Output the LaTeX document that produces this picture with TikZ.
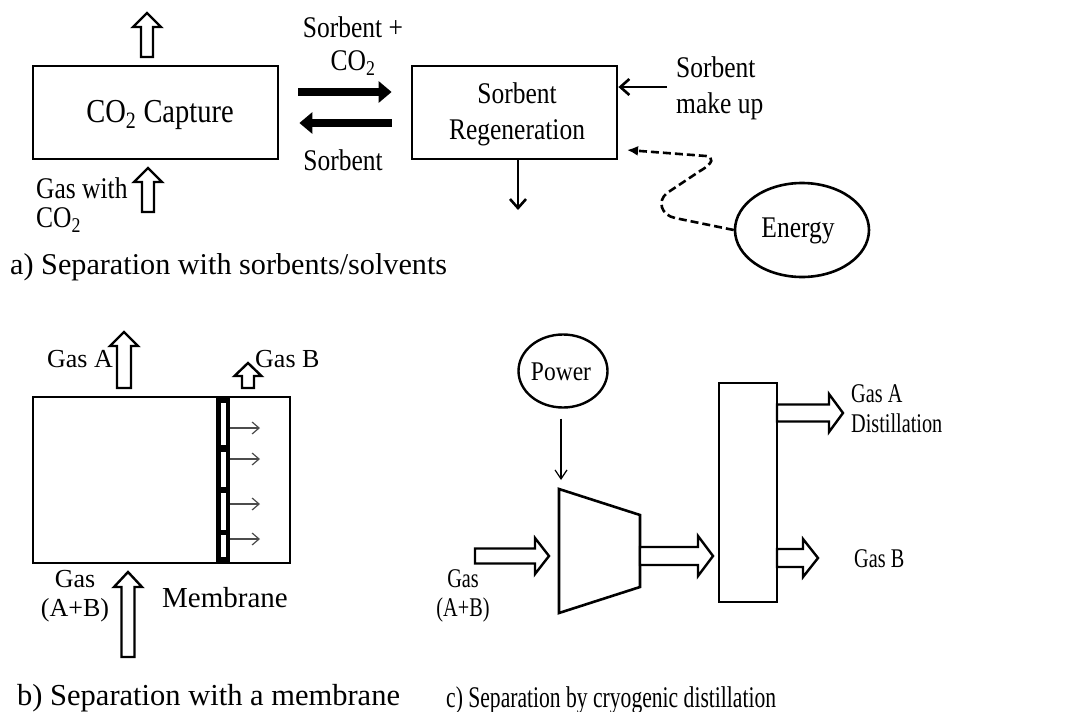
\documentclass[tikz,border=0pt]{standalone}
\usepackage{fontspec}
\setmainfont{Liberation Serif}
\newfontfamily\fA{Liberation Serif}[FakeStretch=0.85]
\newfontfamily\fC{Liberation Serif}[FakeStretch=0.75]
\newfontfamily\fP{Liberation Serif}[FakeStretch=0.87]
\newfontfamily\fCap{Liberation Serif}[FakeStretch=0.72]
\usetikzlibrary{arrows.meta,calc,shapes.geometric}
\newcommand\blkup[6]{%
  \draw[blk] (#1-#4,#2) -- (#1-#4,#3+#6) -- (#1-#5,#3+#6) -- (#1,#3) -- (#1+#5,#3+#6) -- (#1+#4,#3+#6) -- (#1+#4,#2) -- cycle;}
\newcommand\blkright[6]{%
  \draw[blk] (#2,#1-#4) -- (#3-#6,#1-#4) -- (#3-#6,#1-#5) -- (#3,#1) -- (#3-#6,#1+#5) -- (#3-#6,#1+#4) -- (#2,#1+#4) -- cycle;}
\tikzset{
  box/.style={draw, line width=2.8pt, rectangle, inner sep=0pt},
  blk/.style={draw, line width=2.4pt, fill=white, line join=miter},
  la/.style={inner sep=0pt, font=\fA\fontsize{30}{36}\selectfont},
  lb/.style={inner sep=0pt, font=\fontsize{26}{31}\selectfont},
  lc/.style={inner sep=0pt, font=\fC\fontsize{27}{32}\selectfont},
  capt/.style={inner sep=0pt, anchor=base west},
  thickarr/.style={line width=8pt, -{Triangle[length=13pt,width=21pt]}},
  medarr/.style={line width=2.6pt, -{Straight Barb[length=9pt,width=16pt,line width=2.6pt]}},
  thinarr/.style={line width=1.2pt, draw=black!70, -{Straight Barb[length=7pt,width=12pt,line width=1.2pt]}},
  thinarrb/.style={line width=1.2pt, -{Straight Barb[length=9pt,width=12pt,line width=1.2pt]}},
  dasharr/.style={line width=2.6pt, dash pattern=on 8pt off 4pt, -{Latex[length=11pt,width=10pt]}},
}
\begin{document}
\begin{tikzpicture}[x=1pt,y=-1pt]
\useasboundingbox (0,0) rectangle (1090,712);
% ---------- a) ----------
\node[box, minimum width=245pt, minimum height=93pt] (cap) at (155.5,112.5) {};
\node[la, font=\fA\fontsize{33.5}{38}\selectfont, anchor=base] (captxt) at (160,122) {CO\textsubscript{2} Capture};
\node[box, minimum width=205pt, minimum height=93pt] (reg) at (514.5,112.5) {};
\node[la, anchor=base] (regt1) at (517,103) {Sorbent};
\node[la, anchor=base] (regt2) at (517,139) {Regeneration};
\blkup{147}{57}{13}{6}{14}{14}
\blkup{148}{212}{168}{6}{14}{14}
\node[la, anchor=base west] (gw1) at (36,198) {Gas with};
\node[la, anchor=base west] (gw2) at (36,227) {CO\textsubscript{2}};
\draw[thickarr] ($(cap.east)+(19,-20.5)$) -- ($(reg.west)+(-19,-20.5)$);
\draw[thickarr] ($(reg.west)+(-19,10.5)$) -- ($(cap.east)+(20,10.5)$);
\node[la, anchor=base] (sp1) at (353,37) {Sorbent +};
\node[la, anchor=base] (sp2) at (353,70) {CO\textsubscript{2}};
\node[la, anchor=base] (sb) at (343,170) {Sorbent};
\node[la, anchor=base west] (mk1) at (676,77) {Sorbent};
\node[la, anchor=base west] (mk2) at (676,113) {make up};
\coordinate (mkstart) at (667,87);
\draw[medarr] (mkstart) -- (mkstart -| reg.east);
\coordinate (regout) at (518,210);
\draw[medarr] (reg.south -| regout) -- (regout);
\node[draw, ellipse, line width=2.6pt, minimum width=134pt, minimum height=94pt, inner sep=0pt] (energy) at (802,230) {};
\node[la, anchor=base] (entxt) at (798,237) {Energy};
\coordinate (entip) at (627,150);
\draw[dasharr] (energy.west) -- (675,218) .. controls (661,215) and (657,201) .. (667,193) -- (700,171) .. controls (714,163) and (714,157) .. (706,156) -- (entip);
\node[capt, font=\fontsize{30.2}{36}\selectfont] (capa) at (10,274) {a) Separation with sorbents/solvents};
% ---------- b) ----------
\fill (216,397) rectangle (230,563);
\fill[white] (220.5,403) rectangle (225.5,445);
\fill[white] (220.5,452) rectangle (225.5,487);
\fill[white] (220.5,493) rectangle (225.5,530);
\fill[white] (220.5,535) rectangle (225.5,557);
\node[box, minimum width=257pt, minimum height=166pt] (mbox) at (161.5,480) {};
\foreach \yy/\nm in {428/m1,459/m2,504/m3,539/m4}{
  \coordinate (\nm) at (230,\yy);
  \draw[thinarr] (\nm) -- ++(30,0);
}
\blkup{124}{388}{332}{7}{14}{14}
\blkup{248}{388}{363}{6}{13.5}{13}
\blkup{128}{657}{572}{6.5}{14}{15}
\node[lb, anchor=base east] (ga) at (113,367) {Gas A};
\node[lb, anchor=base west] (gb) at (255,367) {Gas B};
\node[lb, anchor=base] (gin1) at (75,587) {Gas};
\node[lb, anchor=base] (gin2) at (75,616) {(A+B)};
\node[lb, font=\fontsize{29}{32}\selectfont, anchor=base] (memb) at (225,607) {Membrane};
\node[capt, font=\fontsize{30.5}{36}\selectfont] (capb) at (17,705) {b) Separation with a membrane};
% ---------- c) ----------
\node[draw, ellipse, line width=2.4pt, minimum width=89pt, minimum height=73pt, inner sep=0pt] (power) at (563,371) {};
\node[lc, font=\fP\fontsize{27}{32}\selectfont, anchor=base] (pwtxt) at (561,380) {Power};
\coordinate (comptop) at (561,480);
\draw[thinarrb] ($(power.south)+(-2,10)$) -- (comptop);
\draw[line width=2.6pt, line join=miter] (559,489) coordinate (c1) -- (640,515) coordinate (c2) -- (640,587) coordinate (c3) -- (559,613) coordinate (c4) -- cycle;
\node[box, line width=2.6pt, minimum width=58pt, minimum height=219pt] (col) at (748,492.5) {};
\blkright{556}{475}{549}{7.5}{18}{14}
\blkright{556}{640}{713}{9}{20}{15}
\blkright{413}{777}{843}{8.5}{19}{14}
\blkright{558}{777}{818}{9}{19}{15}
\node[lc, anchor=base] (cin1) at (463,587) {Gas};
\node[lc, anchor=base] (cin2) at (463,616) {(A+B)};
\node[lc, anchor=base west] (cga1) at (851,402) {Gas A};
\node[lc, anchor=base west] (cga2) at (851,432) {Distillation};
\node[lc, anchor=base west] (cgb) at (854,567) {Gas B};
\node[capt, font=\fCap\fontsize{30}{36}\selectfont] (capc) at (446,707) {c) Separation by cryogenic distillation};
\end{tikzpicture}
\end{document}
